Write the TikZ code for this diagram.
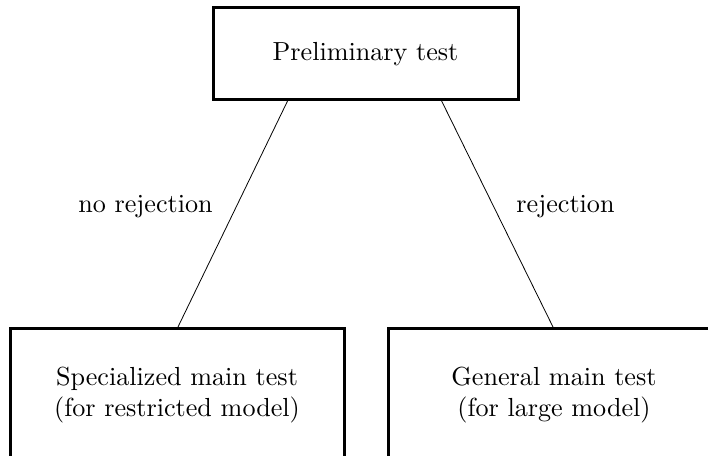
\documentclass[tikz,border=0pt]{standalone}
\usepackage{graphicx}
\usetikzlibrary{calc}
\newcommand{\bigtext}[1]{\scalebox{1.96}{\begin{tabular}{@{}c@{}}#1\end{tabular}}}
\tikzset{
  box/.style={draw, line width=2.25pt, inner sep=0pt, outer sep=0pt, align=center},
  conn/.style={line width=0.6pt},
  lbl/.style={inner sep=0pt, anchor=base}
}
\begin{document}
\begin{tikzpicture}[x=0.75pt, y=-0.75pt]
\useasboundingbox (0,0) rectangle (708,456);
\clip (0,0) rectangle (708,456);
\node[box, minimum width=228.75pt, minimum height=69pt] (top) at (365.5,54) {\bigtext{Preliminary test}};
\node[box, minimum width=250.5pt, minimum height=98.25pt] (bl) at (177,394.5) {\bigtext{Specialized main test\\(for restricted model)}};
\node[box, minimum width=249pt, minimum height=98.25pt] (br) at (554,394.5) {\bigtext{General main test\\(for large model)}};
\coordinate (tl) at ($(top.south west)!0.246!(top.south east)$);
\coordinate (tr) at ($(top.south west)!0.748!(top.south east)$);
\draw[conn] (tl) -- (bl.north);
\draw[conn] (tr) -- (br.north);
\node[lbl] (l1) at (145.5,213) {\scalebox{1.96}{no rejection}};
\node[lbl] (l2) at (565.5,213) {\scalebox{1.96}{rejection}};
\end{tikzpicture}
\end{document}
